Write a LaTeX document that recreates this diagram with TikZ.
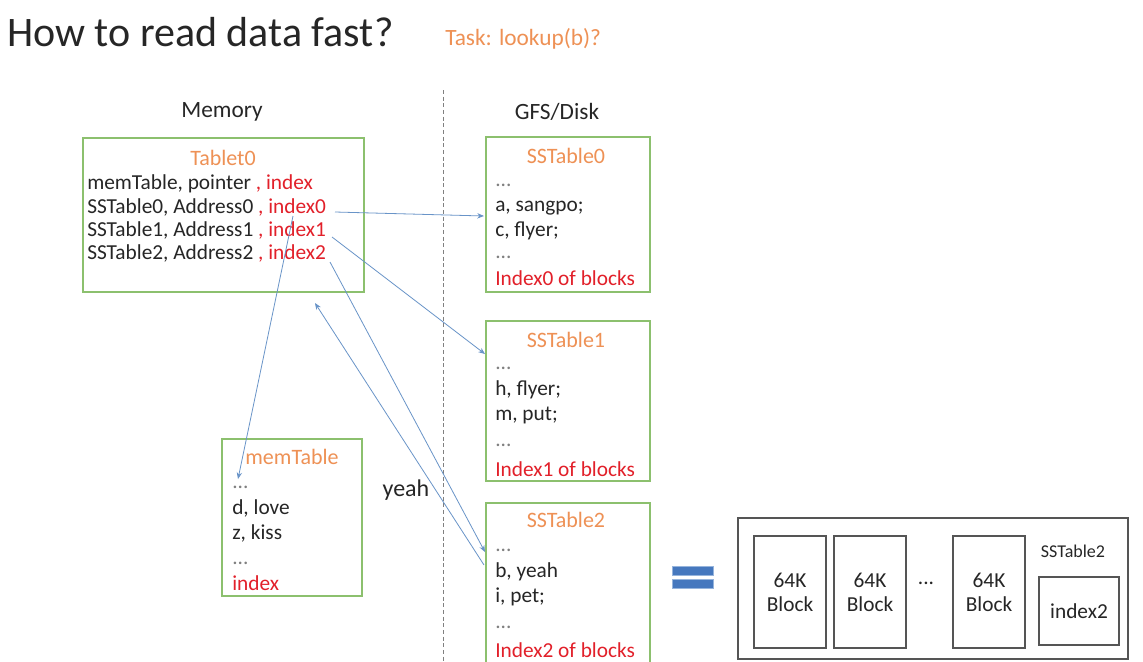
\documentclass[tikz,border=0pt]{standalone}
\usepackage{fontspec}
\setmainfont{Carlito}
\usetikzlibrary{arrows.meta,calc,fit}
\definecolor{boxgreen}{RGB}{140,192,110}
\definecolor{ttlorange}{RGB}{238,145,85}
\definecolor{idxred}{RGB}{226,32,42}
\definecolor{arrowblue}{RGB}{105,148,200}
\definecolor{txt}{RGB}{38,38,38}
\definecolor{blkgray}{RGB}{85,85,85}
\definecolor{eqblue}{RGB}{70,120,190}
\definecolor{eqedge}{RGB}{150,180,220}
\tikzset{
  gbox/.style={draw=boxgreen, line width=0.9pt, inner sep=0pt},
  kbox/.style={draw=blkgray, line width=1pt, inner sep=0pt},
  body/.style={anchor=west, inner sep=0pt, text=txt, font=\fontsize{16}{18}\selectfont},
  cbody/.style={inner sep=0pt, text=txt, font=\fontsize{16}{18}\selectfont},
  head/.style={inner sep=0pt, text=txt, font=\fontsize{17.5}{20}\selectfont},
  ttl/.style={inner sep=0pt, text=ttlorange, font=\fontsize{16.5}{19}\selectfont},
  redl/.style={body, text=idxred},
  dots/.style={body, text=gray},
  arr/.style={draw=arrowblue, line width=0.6pt, -{Stealth[length=5pt,width=4pt]}},
  eqbar/.style={fill=eqblue, draw=eqedge, line width=0.6pt, inner sep=0pt},
}
\begin{document}
\begin{tikzpicture}[x=0.75pt,y=-0.75pt]
\clip (0,0) rectangle (1143,661);
\fill[white] (0,0) rectangle (1143,661);

% title
\node[anchor=west, inner sep=0pt, text=txt, font=\fontsize{31.5}{36}\selectfont] (title) at (7,32) {How to read data fast?};
\node[anchor=west, inner sep=0pt, text=ttlorange, font=\fontsize{17.5}{20}\selectfont] (task) at (445,39) {Task: lookup(b)?};

% divider
\draw[draw=gray, line width=0.6pt, dash pattern=on 3pt off 2pt] (443,90) -- (443,661);

\node[head] (mem) at (222,112) {Memory};
\node[head] (gfs) at (557,112) {GFS/Disk};

% Tablet0
\node[gbox, fit={(83,138) (364,292)}] (t0) {};
\node[ttl] (t0t) at (223,158) {Tablet0};
\node[body] (l0) at (87,184) {memTable, pointer {\color{idxred}, index}};
\node[body] (l1) at (87,207) {SSTable0, Address0 {\color{idxred}, index0}};
\node[body] (l2) at (87,230) {SSTable1, Address1 {\color{idxred}, index1}};
\node[body] (l3) at (87,253) {SSTable2, Address2 {\color{idxred}, index2}};

% SSTable0
\node[gbox, fit={(486,137) (650,292)}] (s0) {};
\node[ttl] (s0t) at (566,156) {SSTable0};
\node[dots] (s0a) at (495,185) {...};
\node[body] (s0b) at (495,208) {a, sangpo;};
\node[body] (s0c) at (495,231) {c, flyer;};
\node[dots] (s0d) at (495,257) {...};
\node[redl] (s0e) at (495,278) {Index0 of blocks};

% SSTable1
\node[gbox, fit={(486,321) (650,481)}] (s1) {};
\node[ttl] (s1t) at (566,340) {SSTable1};
\node[dots] (s1a) at (495,368) {...};
\node[body] (s1b) at (495,390) {h, flyer;};
\node[body] (s1c) at (495,415) {m, put;};
\node[dots] (s1d) at (495,445) {...};
\node[redl] (s1e) at (495,469) {Index1 of blocks};

% SSTable2
\node[gbox, fit={(486,503) (650,672)}] (s2) {};
\node[ttl] (s2t) at (566,520) {SSTable2};
\node[dots] (s2a) at (495,550) {...};
\node[body] (s2b) at (495,572) {b, yeah};
\node[body] (s2c) at (495,597) {i, pet;};
\node[dots] (s2d) at (495,627) {...};
\node[redl] (s2e) at (495,650) {Index2 of blocks};

% memTable
\node[gbox, fit={(222,439) (362,596)}] (mt) {};
\node[ttl] (mtt) at (292,457) {memTable};
\node[dots] (mta) at (232,487) {...};
\node[body] (mtb) at (232,508) {d, love};
\node[body] (mtc) at (232,533) {z, kiss};
\node[dots] (mtd) at (232,563) {...};
\node[redl] (mte) at (232,583) {index};

\node[inner sep=0pt, text=txt, font=\fontsize{18}{20}\selectfont] (yeah) at (406,490) {yeah};

% arrows
\coordinate (a1s) at (335,212);
\coordinate (a1e) at (484,216);
\coordinate (a2s) at (332,237);
\coordinate (a2e) at (485,354);
\coordinate (a3s) at (293,216);
\coordinate (a3e) at (238,479);
\coordinate (a4s) at (484,565);
\coordinate (a4e) at (315,303);
\coordinate (a5s) at (330,262);
\coordinate (a5e) at (485,552);
\draw[arr] (a1s) -- (a1e);
\draw[arr] (a2s) -- (a2e);
\draw[arr] (a3s) -- (a3e);
\draw[arr] (a4s) -- (a4e);
\draw[arr] (a5s) -- (a5e);

% equals
\node[eqbar, fit={(672,566) (713,575)}] (eq1) {};
\node[eqbar, fit={(672,579) (713,588)}] (eq2) {};

% SSTable2 layout
\node[kbox, fit={(738,518) (1128,659)}] (big) {};
\node[kbox, fit={(754,536) (826,648)}, label={[cbody, align=center]center:64K\\Block}] (b1) {};
\node[kbox, fit={(834,536) (906,648)}, label={[cbody, align=center]center:64K\\Block}] (b2) {};
\node[kbox, fit={(953,536) (1025,648)}, label={[cbody, align=center]center:64K\\Block}] (b3) {};
\node[cbody] (bd) at (926,583) {...};
\node[inner sep=0pt, text=txt, font=\fontsize{13.5}{15}\selectfont] (bl) at (1073,551) {SSTable2};
\node[kbox, fit={(1039,577) (1119,645)}, label={[cbody]center:index2}] (ix) {};
\end{tikzpicture}
\end{document}
